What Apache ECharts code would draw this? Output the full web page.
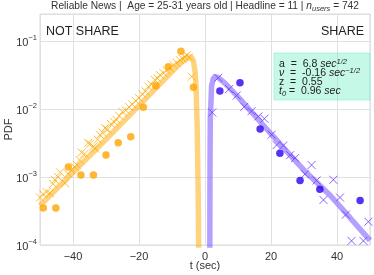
<!DOCTYPE html>
<html><head><meta charset="utf-8">
<script src="https://cdn.jsdelivr.net/npm/echarts@6/dist/echarts.min.js"></script>
<style>html,body{margin:0;padding:0;background:#fff}#c{width:374px;height:275px}</style>
</head><body><div id="c"></div>
<script>
// ---- data ----
const notShareDotT = [-49.0, -45.2, -41.4, -37.6, -33.8, -30.0, -26.3, -22.5, -18.7, -14.9, -11.1, -7.3, -3.5];
const notShareDotV = [3.5e-4, 3.5e-4, 1.4e-3, 1.07e-3, 1.07e-3, 2.1e-3, 3.2e-3, 3.9e-3, 0.0106, 0.022, 0.042, 0.071, 0.021];

const notShareCrossT = [-50, -49, -48, -47, -46, -45.5, -44.5, -43.9, -42.4, -41.5, -40.5, -39.5, -38.9, -38, -37.4, -36.5,
  -35.4, -34.8, -33.8, -33.3, -32.5, -31.8, -31, -30.3, -29.5, -28.5, -27.5, -26.8, -26, -25, -24, -23, -22, -21, -20,
  -19, -18, -17.2, -16.2, -15.2, -14.4, -13.6, -12.6, -11.6, -10.6, -9.6, -8.6, -7.6, -6.8, -6.1, -5.5, -4.8, -4.0];
const notShareCrossV = [5.0e-4, 5.6e-4, 6.0e-4, 5.8e-4, 7.9e-4, 9.1e-4, 1.0e-3, 1.17e-3, 8.1e-4, 1.12e-3, 1.26e-3, 1.41e-3,
  1.51e-3, 1.78e-3, 2.29e-3, 2.19e-3, 3.16e-3, 3.09e-3, 2.82e-3, 2.63e-3, 3.55e-3, 4.17e-3, 4.47e-3, 5.25e-3, 5.0e-3,
  6.03e-3, 6.46e-3, 6.92e-3, 7.94e-3, 9.12e-3, 9.55e-3, 0.0107, 0.0117, 0.0132, 0.0145, 0.0166, 0.0182, 0.0214, 0.0229,
  0.0269, 0.0282, 0.0316, 0.0339, 0.0372, 0.0398, 0.0447, 0.0479, 0.0525, 0.055, 0.059, 0.062, 0.0575, 0.030];

const notShareFitT = [-50, -40, -30, -20, -12, -8, -6, -5, -4.2, -3.5, -3.0, -2.7, -2.4, -2.2, -2.0, -1.9];
const notShareFitV = [3.8e-4, 1.17e-3, 3.6e-3, 0.0112, 0.0282, 0.0447, 0.0537, 0.0575, 0.0589, 0.050, 0.0355, 0.020, 6.3e-3, 1.6e-3, 3.2e-4, 5e-5];

const shareDotT = [4.5, 10.6, 16.7, 22.7, 28.8, 34.8, 47.0];
const shareDotV = [0.0184, 0.0244, 5.1e-3, 2.24e-3, 8.9e-4, 6.6e-4, 4.5e-4];

const shareCrossT = [2.2, 4.0, 7.3, 9.6, 11.9, 14.1, 16.2, 18.0, 20.2, 21.7, 23.7, 25.8, 27.3, 30.3, 32.3, 33.8, 35.9, 38.9, 40.9, 42.7, 44.4, 48.0, 49.5];
const shareCrossV = [8.9e-3, 0.0288, 0.0197, 0.0158, 0.0108, 9.3e-3, 7.8e-3, 7.2e-3, 4.2e-3, 2.95e-3, 2.9e-3, 2.1e-3, 1.9e-3,
  1.1e-3, 1.5e-3, 8.9e-4, 4.6e-4, 9.1e-4, 5.0e-4, 2.8e-4, 1.15e-4, 1.15e-4, 2.2e-4];

const shareFitT = [1.45, 1.5, 1.6, 2.0, 2.5, 3.0, 4.0, 6.0, 10, 15, 20, 25.8, 30, 37.9, 44, 50];
const shareFitV = [5e-5, 1e-3, 7e-3, 0.022, 0.028, 0.030, 0.029, 0.024, 0.0151, 8.1e-3, 4.3e-3, 2.1e-3, 1.26e-3, 5.4e-4, 2.5e-4, 1.17e-4];

const yTickExponents = [-4, -3, -2, -1];
const xTickLabels = [-40, -20, 0, 20, 40];

const titleParts = ['Reliable News |  Age = 25-31 years old | Headline = 11 | ', 'n', 'users', ' = 742'];
const fitParams = { a: '6.8', nu: '-0.16', z: '0.55', t0: '0.96' };

// ---- chart ----
const FONT = 'Liberation Sans, Arial, sans-serif';
const zip = (a, b) => a.map((v, i) => [v, b[i]]);
const X_PATH = 'path://M0,0L10,10M10,0L0,10';

const chart = echarts.init(document.getElementById('c'), null, { renderer: 'canvas' });
chart.setOption({
  animation: false,
  backgroundColor: '#fff',
  textStyle: { fontFamily: FONT },
  grid: { left: 40, right: 4, top: 14, bottom: 30, containLabel: false, outerBoundsMode: 'none',
          show: true, borderColor: '#dadada', borderWidth: 1 },
  xAxis: {
    type: 'value', min: -50, max: 50,
    name: 't (sec)', nameLocation: 'middle', nameGap: 15, nameMoveOverlap: false,
    nameTextStyle: { fontSize: 11, color: '#333', fontFamily: FONT },
    axisLine: { show: false }, axisTick: { show: false },
    splitLine: { show: true, lineStyle: { color: '#e0e0e0', width: 1 } },
    axisLabel: {
      margin: 6, fontSize: 11, color: '#333', fontFamily: FONT,
      showMinLabel: false, showMaxLabel: false,
      formatter: v => xTickLabels.indexOf(v) >= 0 ? String(v).replace('-', '\u2212') : ''
    }
  },
  yAxis: {
    type: 'log', min: 1e-4, max: 0.25, logBase: 10,
    name: 'PDF', nameLocation: 'middle', nameGap: 26, nameMoveOverlap: false,
    nameTextStyle: { fontSize: 11, color: '#333', fontFamily: FONT },
    axisLine: { show: false }, axisTick: { show: false },
    splitLine: { show: true, lineStyle: { color: '#e0e0e0', width: 1 } },
    axisLabel: {
      margin: 3, color: '#333', fontFamily: FONT, showMaxLabel: false,
      formatter: v => {
        const e = Math.log10(v), r = Math.round(e);
        if (Math.abs(e - r) > 1e-6 || yTickExponents.indexOf(r) < 0) return '';
        return '{b|10}{s|\u2212' + (-r) + '}';
      },
      rich: {
        b: { fontSize: 11, color: '#333', fontFamily: FONT, lineHeight: 14, verticalAlign: 'bottom' },
        s: { fontSize: 7.5, color: '#333', fontFamily: FONT, verticalAlign: 'top' }
      }
    }
  },
  series: [
    { type: 'line', data: zip(notShareFitT, notShareFitV), showSymbol: false, symbol: 'none',
      lineStyle: { color: 'rgba(255,175,20,0.55)', width: 5.5 }, z: 1, silent: true },
    { type: 'scatter', data: zip(notShareCrossT, notShareCrossV), symbol: X_PATH, symbolSize: 8,
      itemStyle: { color: 'rgba(0,0,0,0)', borderColor: '#ffad0d', borderWidth: 1 }, z: 2 },
    { type: 'scatter', data: zip(notShareDotT, notShareDotV), symbol: 'circle', symbolSize: 7.5,
      itemStyle: { color: '#ffa500' }, z: 3 },
    { type: 'line', data: zip(shareFitT, shareFitV), showSymbol: false, symbol: 'none',
      lineStyle: { color: 'rgba(120,80,255,0.55)', width: 5.5 }, z: 1, silent: true },
    { type: 'scatter', data: zip(shareCrossT, shareCrossV), symbol: X_PATH, symbolSize: 8,
      itemStyle: { color: 'rgba(0,0,0,0)', borderColor: '#6a3cff', borderWidth: 1 }, z: 2 },
    { type: 'scatter', data: zip(shareDotT, shareDotV), symbol: 'circle', symbolSize: 7.5,
      itemStyle: { color: '#2c00f0' }, z: 3 }
  ],
  graphic: [
    { type: 'text', x: 205, y: 7, z: 10,
      style: {
        text: '{t|' + titleParts[0] + '}{i|' + titleParts[1] + '}{sub|' + titleParts[2] + '}{t|' + titleParts[3] + '}',
        align: 'center', verticalAlign: 'middle',
        rich: {
          t: { fontSize: 10.2, fill: '#333', fontFamily: FONT, lineHeight: 12, verticalAlign: 'top' },
          i: { fontSize: 10.2, fill: '#333', fontFamily: FONT, fontStyle: 'italic', lineHeight: 12, verticalAlign: 'top' },
          sub: { fontSize: 7.5, fill: '#333', fontFamily: FONT, fontStyle: 'italic', verticalAlign: 'bottom' }
        }
      } },
    { type: 'text', x: 46, y: 32, z: 10,
      style: { text: 'NOT SHARE', fontSize: 12.5, fill: '#222', fontFamily: FONT, align: 'left', verticalAlign: 'middle' } },
    { type: 'text', x: 364, y: 32, z: 10,
      style: { text: 'SHARE', fontSize: 12.5, fill: '#222', fontFamily: FONT, align: 'right', verticalAlign: 'middle' } },
    { type: 'rect', shape: { x: 274, y: 53, width: 96, height: 47 }, z: 5,
      style: { fill: 'rgba(127,240,200,0.45)', stroke: 'rgba(127,240,200,0.5)', lineWidth: 1 } },
    { type: 'text', x: 279, y: 63.5, z: 10,
      style: { text: '{r|a  =  ' + fitParams.a + ' }{i|sec}{s|1/2}', verticalAlign: 'middle',
        rich: { r: { fontSize: 10.5, fill: '#222', fontFamily: FONT, lineHeight: 12, verticalAlign: 'bottom' },
                i: { fontSize: 10.5, fill: '#222', fontFamily: FONT, fontStyle: 'italic', lineHeight: 12, verticalAlign: 'bottom' },
                s: { fontSize: 7.5, fill: '#222', fontFamily: FONT, fontStyle: 'italic', verticalAlign: 'top' } } } },
    { type: 'text', x: 279, y: 73, z: 10,
      style: { text: '{i|\u03bd}{r|  =  ' + fitParams.nu + ' }{i|sec}{s|\u22121/2}', verticalAlign: 'middle',
        rich: { r: { fontSize: 10.5, fill: '#222', fontFamily: FONT, lineHeight: 12, verticalAlign: 'bottom' },
                i: { fontSize: 10.5, fill: '#222', fontFamily: FONT, fontStyle: 'italic', lineHeight: 12, verticalAlign: 'bottom' },
                s: { fontSize: 7.5, fill: '#222', fontFamily: FONT, fontStyle: 'italic', verticalAlign: 'top' } } } },
    { type: 'text', x: 279, y: 82.5, z: 10,
      style: { text: 'z  =  ' + fitParams.z, fontSize: 10.5, fill: '#222', fontFamily: FONT, verticalAlign: 'middle' } },
    { type: 'text', x: 279, y: 92, z: 10,
      style: { text: '{i|t}{sub|0}{r| =  ' + fitParams.t0 + ' }{i|sec}', verticalAlign: 'middle',
        rich: { r: { fontSize: 10.5, fill: '#222', fontFamily: FONT, lineHeight: 12, verticalAlign: 'top' },
                i: { fontSize: 10.5, fill: '#222', fontFamily: FONT, fontStyle: 'italic', lineHeight: 12, verticalAlign: 'top' },
                sub: { fontSize: 7.5, fill: '#222', fontFamily: FONT, fontStyle: 'italic', verticalAlign: 'bottom' } } } }
  ]
});
</script>
</body></html>
